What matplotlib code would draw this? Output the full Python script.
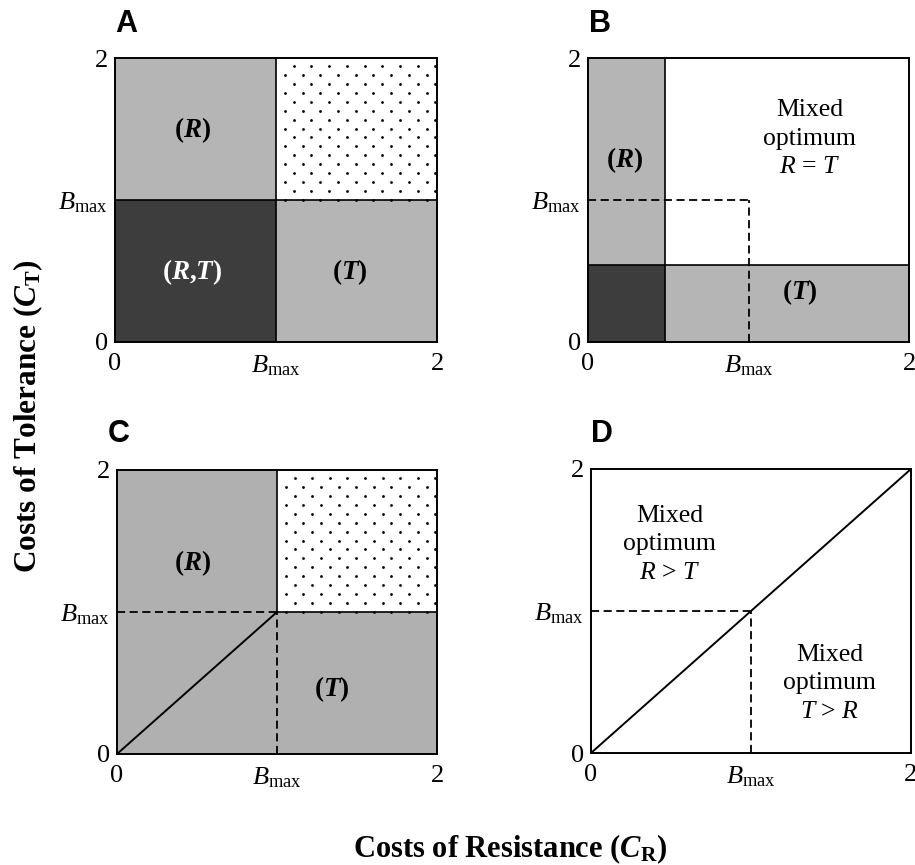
import matplotlib
matplotlib.use("Agg")
import matplotlib.pyplot as plt
import numpy as np
from matplotlib.patches import Rectangle

plt.rcParams['font.family'] = ['Liberation Serif', 'DejaVu Serif']
plt.rcParams['mathtext.fontset'] = 'custom'
plt.rcParams['mathtext.rm'] = 'Liberation Serif'
plt.rcParams['mathtext.it'] = 'Liberation Serif:italic'
plt.rcParams['mathtext.bf'] = 'Liberation Serif:bold'
plt.rcParams['mathtext.bfit'] = 'Liberation Serif:italic:bold'

# ---- data ----
AXMAX = 2.0
BMAX = 1.0
B_CR_SPLIT = 0.48      # panel B boundary on resistance axis
B_CT_SPLIT = 0.54      # panel B boundary on tolerance axis
tick_vals = [0, BMAX, AXMAX]
tick_labels = ['0', r'$B_{\mathrm{max}}$', '2']
panel_letters = ['A', 'B', 'C', 'D']

LIGHT = '#b5b5b5'
LIGHT_C = '#b0b0b0'
DARK = '#3d3d3d'
DOT_DX = 0.11     # texture spacing along a row (data units)
DOT_DY = 0.0625   # texture spacing between rows (data units)

fig = plt.figure(figsize=(9.15, 8.65), dpi=100)
W, H = 915, 865

def ax_from_px(l, t, r, b):
    return fig.add_axes([l / W, 1 - b / H, (r - l) / W, (b - t) / H])

axA = ax_from_px(115, 58, 437, 342)
axB = ax_from_px(588, 58, 909, 342)
axC = ax_from_px(117, 470, 437, 754)
axD = ax_from_px(591, 469, 911, 753)
axes = [axA, axB, axC, axD]

for ax in axes:
    ax.set_xlim(0, AXMAX)
    ax.set_ylim(0, AXMAX)
    ax.set_xticks(tick_vals)
    ax.set_xticklabels(tick_labels)
    ax.set_yticks(tick_vals)
    ax.set_yticklabels(tick_labels)
    ax.tick_params(length=0, labelsize=19)
    ax.tick_params(axis='x', pad=8)
    ax.tick_params(axis='y', pad=5)
    for s in ax.spines.values():
        s.set_linewidth(1.4)
        s.set_zorder(10)

def rect(ax, x0, x1, y0, y1, color):
    ax.add_patch(Rectangle((x0, y0), x1 - x0, y1 - y0, facecolor=color,
                           edgecolor='none', linewidth=0, zorder=1))

def dotted(ax, x0, x1, y0, y1):
    rect(ax, x0, x1, y0, y1, 'white')
    xs, ys = [], []
    for i, yy in enumerate(np.arange(y1 - DOT_DY * 0.95, y0, -DOT_DY)):
        start = x0 + (DOT_DX if i % 2 == 0 else DOT_DX / 2)
        for xx in np.arange(start, x1 + 0.01, DOT_DX):
            xs.append(xx)
            ys.append(yy)
    ax.scatter(xs, ys, s=4.0, color='black', linewidths=0, zorder=2, clip_on=True)

solid = dict(color='black', lw=1.2, zorder=5)
dashed = dict(color='black', lw=1.3, ls=(0, (4.5, 2.5)), zorder=5)
lab = dict(fontsize=19.5, fontweight='bold', ha='center', va='center', zorder=6)
mix = dict(fontsize=18.5, ha='center', va='center', linespacing=1.38, zorder=6)

# ---- Panel A ----
rect(axA, 0, BMAX, BMAX, AXMAX, LIGHT)
rect(axA, 0, BMAX, 0, BMAX, DARK)
rect(axA, BMAX, AXMAX, 0, BMAX, LIGHT)
dotted(axA, BMAX, AXMAX, BMAX, AXMAX)
axA.plot([BMAX, BMAX], [0, AXMAX], **solid)
axA.plot([0, AXMAX], [BMAX, BMAX], **solid)
axA.text(0.48, 1.49, r'($\mathbfit{R}$)', **lab)
axA.text(0.48, 0.49, r'($\mathbfit{R}$,$\mathbfit{T}$)', color='white', **lab)
axA.text(1.46, 0.49, r'($\mathbfit{T}$)', **lab)

# ---- Panel B ----
rect(axB, 0, B_CR_SPLIT, B_CT_SPLIT, AXMAX, LIGHT)
rect(axB, 0, B_CR_SPLIT, 0, B_CT_SPLIT, DARK)
rect(axB, B_CR_SPLIT, AXMAX, 0, B_CT_SPLIT, LIGHT)
axB.plot([B_CR_SPLIT, B_CR_SPLIT], [0, AXMAX], **solid)
axB.plot([0, AXMAX], [B_CT_SPLIT, B_CT_SPLIT], **solid)
axB.plot([0, BMAX], [BMAX, BMAX], **dashed)
axB.plot([BMAX, BMAX], [0, BMAX], **dashed)
axB.text(0.23, 1.28, r'($\mathbfit{R}$)', **lab)
axB.text(1.32, 0.35, r'($\mathbfit{T}$)', **lab)
axB.text(1.38, 1.43, 'Mixed\noptimum\n$R$ = $T$', **mix)

# ---- Panel C ----
rect(axC, 0, AXMAX, 0, AXMAX, LIGHT_C)
dotted(axC, BMAX, AXMAX, BMAX, AXMAX)
axC.plot([BMAX, BMAX], [BMAX, AXMAX], **solid)
axC.plot([BMAX, AXMAX], [BMAX, BMAX], **solid)
axC.plot([0, BMAX], [BMAX, BMAX], **dashed)
axC.plot([BMAX, BMAX], [0, BMAX], **dashed)
axC.plot([0, BMAX], [0, BMAX], color='black', lw=1.4, zorder=5)
axC.text(0.475, 1.345, r'($\mathbfit{R}$)', **lab)
axC.text(1.34, 0.46, r'($\mathbfit{T}$)', **lab)

# ---- Panel D ----
axD.plot([0, AXMAX], [0, AXMAX], color='black', lw=1.4, zorder=5)
axD.plot([0, BMAX], [BMAX, BMAX], **dashed)
axD.plot([BMAX, BMAX], [0, BMAX], **dashed)
axD.text(0.49, 1.47, 'Mixed\noptimum\n$R$ > $T$', **mix)
axD.text(1.49, 0.49, 'Mixed\noptimum\n$T$ > $R$', **mix)

# ---- panel letters ----
letter_px = [(115, 32), (589, 32), (108, 442), (591, 442)]
for letter, (x, y) in zip(panel_letters, letter_px):
    fig.text(x / W, 1 - y / H, letter, fontsize=22, fontweight='bold',
             family=['Liberation Sans', 'DejaVu Sans'], ha='left', va='baseline')

# ---- axis labels ----
fig.text(510 / W, 1 - 857 / H, r'Costs of Resistance ($\mathbfit{C}_{\mathbf{R}}$)',
         fontsize=22, fontweight='bold', ha='center', va='baseline')
fig.text(28 / W, 1 - 416 / H, r'Costs of Tolerance ($\mathbfit{C}_{\mathbf{T}}$)',
         fontsize=22.5, fontweight='bold', ha='center', va='center', rotation=90)

fig.savefig('out.png', dpi=100)
